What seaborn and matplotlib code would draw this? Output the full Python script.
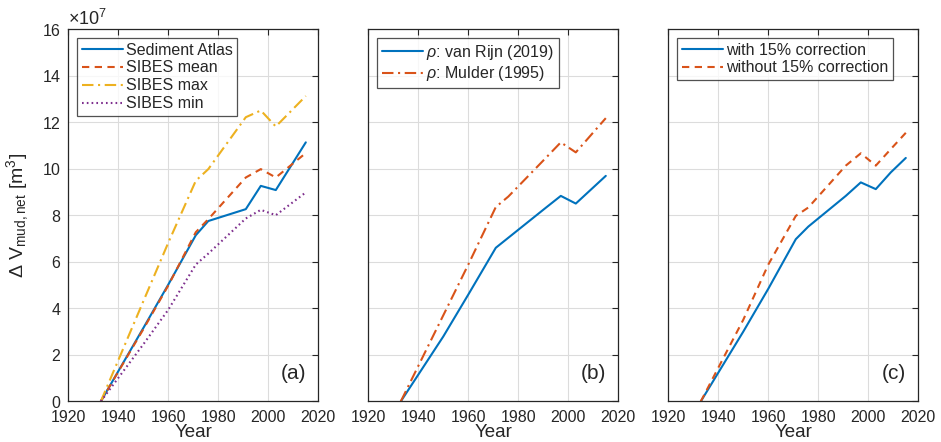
import numpy as np
import pandas as pd
import matplotlib
matplotlib.use("Agg")
import matplotlib.pyplot as plt
import seaborn as sns
from matplotlib.ticker import ScalarFormatter

# Survey years
years = [1933, 1950, 1960, 1971, 1976, 1991, 1997, 2003, 2015]
years_c = [1933, 1950, 1960, 1971, 1976, 1991, 1997, 2003, 2009, 2015]

# Net mud volume change, in units of 1e7 m^3
atlas = [0, 3.15, 5.02, 7.14, 7.75, 8.26, 9.26, 9.08, 11.13]
sibes_mean = [0, 3.10, 4.98, 7.27, 7.83, 9.62, 9.98, 9.62, 10.67]
sibes_max = [0, 4.30, 6.82, 9.48, 9.98, 12.21, 12.50, 11.81, 13.12]
sibes_min = [0, 2.45, 3.94, 5.88, 6.35, 7.86, 8.23, 8.00, 8.98]

rho_vanrijn = [0, 2.79, 4.59, 6.60, 7.03, 8.32, 8.83, 8.50, 9.69]
rho_mulder = [0, 3.70, 5.88, 8.35, 8.80, 10.46, 11.13, 10.70, 12.17]

with_corr = [0, 3.00, 4.84, 6.97, 7.51, 8.83, 9.41, 9.12, 9.84, 10.46]
without_corr = [0, 3.51, 5.88, 7.97, 8.33, 10.13, 10.66, 10.13, 10.84, 11.54]

x_ticks = [1920, 1940, 1960, 1980, 2000, 2020]
y_ticks = [0, 2, 4, 6, 8, 10, 12, 14, 16]

BLUE = "#0072BD"
RED = "#D95319"
YELLOW = "#EDB120"
PURPLE = "#7E2F8E"
INK = "#262626"

sns.set_style("white")
plt.rcParams["font.family"] = ["Liberation Sans", "DejaVu Sans"]
plt.rcParams["mathtext.fontset"] = "custom"
plt.rcParams["mathtext.rm"] = "Liberation Sans"
plt.rcParams["mathtext.it"] = "Liberation Sans:italic"
plt.rcParams["mathtext.bf"] = "Liberation Sans:bold"

fig = plt.figure(figsize=(9.41, 4.42), dpi=100)
W, H = 941, 442
ax_w = 250 / W
ax_b = 1 - 401.4 / H
ax_h = (401.4 - 29) / H
lefts = [68.3 / W, 368.3 / W, 668.3 / W]
axes = [fig.add_axes([l, ax_b, ax_w, ax_h]) for l in lefts]

DASH = (0, (3.5, 2.6))
DASHDOT = (0, (5.5, 2.2, 1.0, 2.2))
DOT = (0, (0.8, 1.5))
LW = 1.5

panels = [
    (years, [
        (atlas, "Sediment Atlas", BLUE, "-"),
        (sibes_mean, "SIBES mean", RED, DASH),
        (sibes_max, "SIBES max", YELLOW, DASHDOT),
        (sibes_min, "SIBES min", PURPLE, DOT),
    ], "(a)"),
    (years, [
        (rho_vanrijn, r"$\rho$: van Rijn (2019)", BLUE, "-"),
        (rho_mulder, r"$\rho$: Mulder (1995)", RED, DASHDOT),
    ], "(b)"),
    (years_c, [
        (with_corr, "with 15% correction", BLUE, "-"),
        (without_corr, "without 15% correction", RED, DASH),
    ], "(c)"),
]

for i, (ax, (yrs, series, tag)) in enumerate(zip(axes, panels)):
    for vals, label, color, ls in series:
        df = pd.DataFrame({"Year": yrs, "V": np.array(vals) * 1e7})
        sns.lineplot(data=df, x="Year", y="V", ax=ax, color=color,
                     linestyle=ls, linewidth=LW, label=label)

    ax.set_xlim(1920, 2020)
    ax.set_ylim(0, 16e7)
    ax.set_xticks(x_ticks)
    ax.set_yticks([v * 1e7 for v in y_ticks])
    ax.grid(True, color="#dcdcdc", linewidth=0.8)
    ax.set_axisbelow(True)
    ax.tick_params(direction="in", length=4.5, width=0.8, top=True,
                   right=True, labelsize=11.5, colors=INK,
                   labelcolor=INK)
    ax.tick_params(axis="x", pad=6.5)
    ax.tick_params(axis="y", pad=5)
    for sp in ax.spines.values():
        sp.set_color(INK)
        sp.set_linewidth(0.9)
    ax.set_xlabel("Year", fontsize=13.5, color=INK, labelpad=-1)

    fmt = ScalarFormatter(useMathText=True)
    fmt.set_powerlimits((7, 7))
    ax.yaxis.set_major_formatter(fmt)
    ax.yaxis.get_offset_text().set_fontsize(13)
    ax.yaxis.get_offset_text().set_color(INK)

    if i == 0:
        ax.set_ylabel(r"$\Delta$ V$_{\rm mud,net}$ [m$^3$]",
                      fontsize=14, color=INK, labelpad=8)
    else:
        ax.set_ylabel("")
        ax.tick_params(labelleft=False)
        ax.yaxis.get_offset_text().set_visible(False)

    leg = ax.legend(loc="upper left", fontsize=11.5, frameon=True,
                    fancybox=False, handlelength=2.6, handletextpad=0.15,
                    borderpad=0.3, labelspacing=0.18, borderaxespad=0.55)
    leg.get_frame().set_edgecolor(INK)
    leg.get_frame().set_linewidth(0.9)
    for t in leg.get_texts():
        t.set_color(INK)

    ax.text(0.95, 0.05, tag, transform=ax.transAxes, ha="right",
            va="bottom", fontsize=15, color=INK)

fig.savefig("out.png", dpi=100)
